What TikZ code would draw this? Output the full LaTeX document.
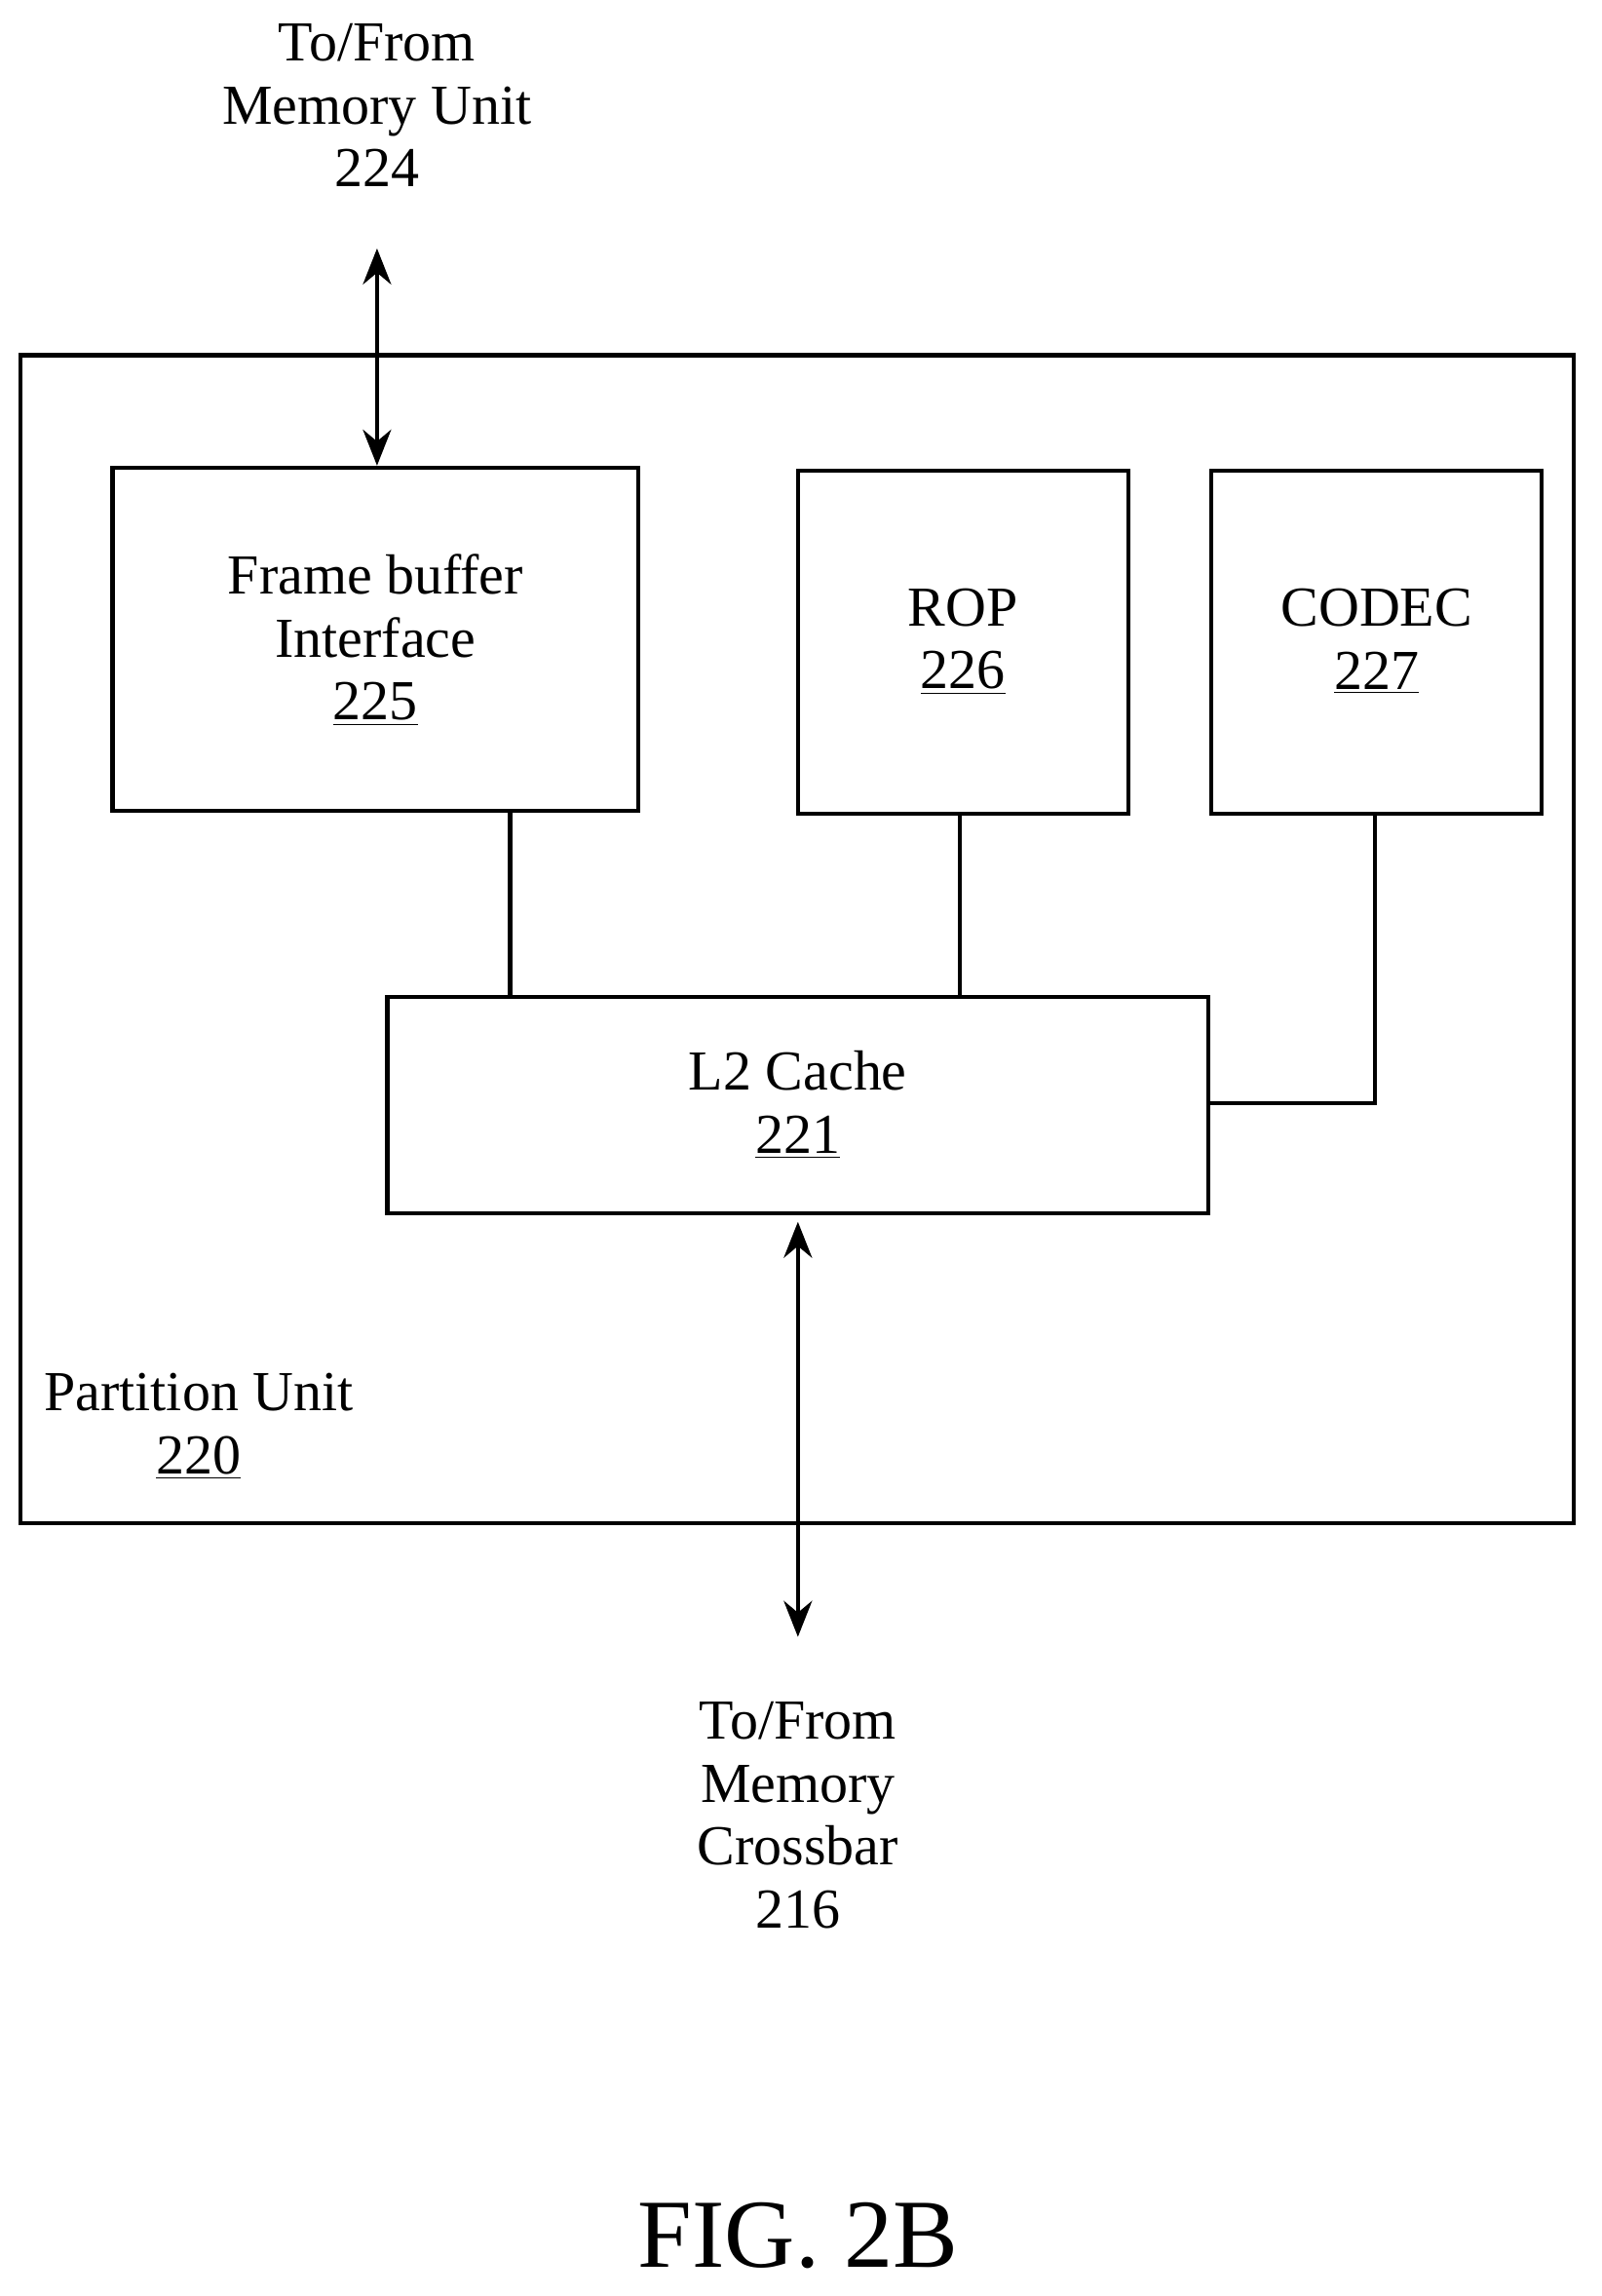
\documentclass[tikz,border=0pt]{standalone}
\usepackage{fontspec}
\setmainfont{Liberation Serif}
\usetikzlibrary{arrows.meta}
\begin{document}
\begin{tikzpicture}[x=0.02cm,y=-0.02cm,
  box/.style={draw,line width=1.6pt,inner sep=0pt},
  lbl/.style={font=\fontsize{22}{24.5}\selectfont,align=center},
  ln/.style={line width=1.6pt},
  arr/.style={line width=1.6pt,{Stealth[length=14pt,width=11pt]}-{Stealth[length=14pt,width=11pt]}}]
\useasboundingbox (0,0) rectangle (1096,1571);
\draw[box] (14,243) rectangle (1077,1042);
\node[box,minimum width=360*0.02cm,minimum height=235*0.02cm] (fb) at (257,437.5) {};
\node[lbl] at (257,438) {Frame buffer\\Interface\\\underline{225}};
\node[box,minimum width=226*0.02cm,minimum height=235*0.02cm] (rop) at (659,439.5) {};
\node[lbl] at (659,439) {ROP\\\underline{226}};
\node[box,minimum width=226*0.02cm,minimum height=235*0.02cm] (codec) at (942,439.5) {};
\node[lbl] at (942,439) {CODEC\\\underline{227}};
\node[box,minimum width=562*0.02cm,minimum height=148*0.02cm] (l2) at (546,756) {};
\node[lbl] at (546,756) {L2 Cache\\\underline{221}};
\node[lbl] at (136,976) {Partition Unit\\\underline{220}};
\draw[ln] (fb.south -| 349,0) -- (l2.north -| 349,0);
\draw[ln] (rop.south -| 657,0) -- (l2.north -| 657,0);
\draw[ln] (codec.south -| 941,0) -- (941,755) -- (l2.east |- 0,755);
\node[lbl] (mu) at (258,72) {To/From\\Memory Unit\\224};
\coordinate (mut) at (258,170);
\draw[arr] (mut) -- (fb.north -| mut);
\node[lbl] (mc) at (546,1242) {To/From\\Memory\\Crossbar\\216};
\coordinate (mcb) at (546,1120);
\draw[arr] (l2.south |- 0,836) -- (mcb);
\node[font=\fontsize{38}{44}\selectfont] (fig) at (546,1530) {FIG. 2B};
\end{tikzpicture}
\end{document}
